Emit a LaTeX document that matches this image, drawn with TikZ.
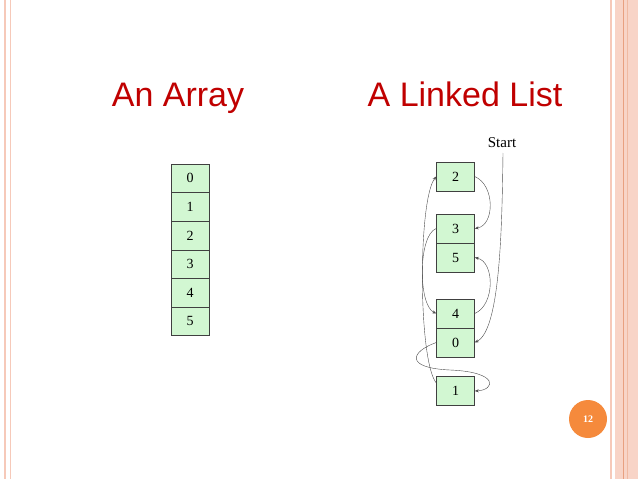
\documentclass[tikz,border=0pt]{standalone}
\usepackage{fontspec}
\setmainfont{Liberation Serif}
\newfontfamily\titlefont{Liberation Sans}
\usetikzlibrary{arrows.meta}
\definecolor{ttl}{HTML}{C00000}
\definecolor{cellg}{HTML}{D2F7D2}
\definecolor{brd}{HTML}{F6C9B9}
\definecolor{brdd}{HTML}{E8A080}
\definecolor{orng}{HTML}{F58A3C}
\tikzset{
 cell/.style={draw=black!75,fill=cellg,minimum width=38pt,minimum height=28.6pt,inner sep=0pt,font=\fontsize{14}{14}\selectfont,line width=0.5pt},
 lcell/.style={cell,minimum height=29pt},
 link/.style={line width=0.4pt,black!70,-{Stealth[length=4pt,width=3pt]}},
 title/.style={font=\titlefont\fontsize{34}{34}\selectfont,text=ttl}
}
\begin{document}
\begin{tikzpicture}[x=1pt,y=-1pt]
\useasboundingbox (0,0) rectangle (638,479);
\fill[white] (0,0) rectangle (638,479);
% borders
\draw[brd,line width=2pt] (5,0)--(5,479);
\draw[brd,line width=1pt] (10,0)--(10,479);
\draw[brd,line width=1.5pt] (611,0)--(611,479);
\fill[brd!80] (615,0) rectangle (638,479);
\draw[brdd,line width=0.8pt] (623,0)--(623,479);
\draw[brd!60!brdd,line width=0.6pt] (627,0)--(627,479);
% titles
\node[title,anchor=base] (t1) at (178,106) {An Array};
\node[title,anchor=base] (t2) at (465,106) {A Linked List};
% array
\foreach \v [count=\i from 0] in {0,...,5}
  \node[cell] (a\v) at (190,{178.3+28.6*\i}) {\v};
% linked list
\node[lcell] (l2) at (455.5,176.5) {2};
\node[lcell] (l3) at (455.5,228.5) {3};
\node[lcell] (l5) at (455.5,257.5) {5};
\node[lcell] (l4) at (455.5,313.5) {4};
\node[lcell] (l0) at (455.5,342.5) {0};
\node[lcell] (l1) at (455.5,391) {1};
\node[font=\fontsize{15}{15}\selectfont] (st) at (502,143) {Start};
\coordinate (s0) at (503,153);
\draw[link] (s0) .. controls (502,230) and (500,330) .. (l0.east);
\draw[link] (l2.east) .. controls (495,185) and (495,225) .. (l3.east);
\draw[link] (l4.east) .. controls (495,305) and (495,262) .. (l5.east);
\draw[link] (l3.west) .. controls (418,235) and (418,305) .. (l4.west);
\draw[link] (l0.west) .. controls (410,352) and (405,368) .. (450,370) .. controls (500,372) and (495,390) .. (l1.east);
\draw[link] ([yshift=8pt]l1.west) .. controls (418,360) and (418,200) .. (l2.west);
% page number
\node[circle,fill=orng,minimum size=38pt,inner sep=0pt,text=white,font=\bfseries\fontsize{10}{10}\selectfont] (pn) at (588,419) {12};
\end{tikzpicture}
\end{document}
